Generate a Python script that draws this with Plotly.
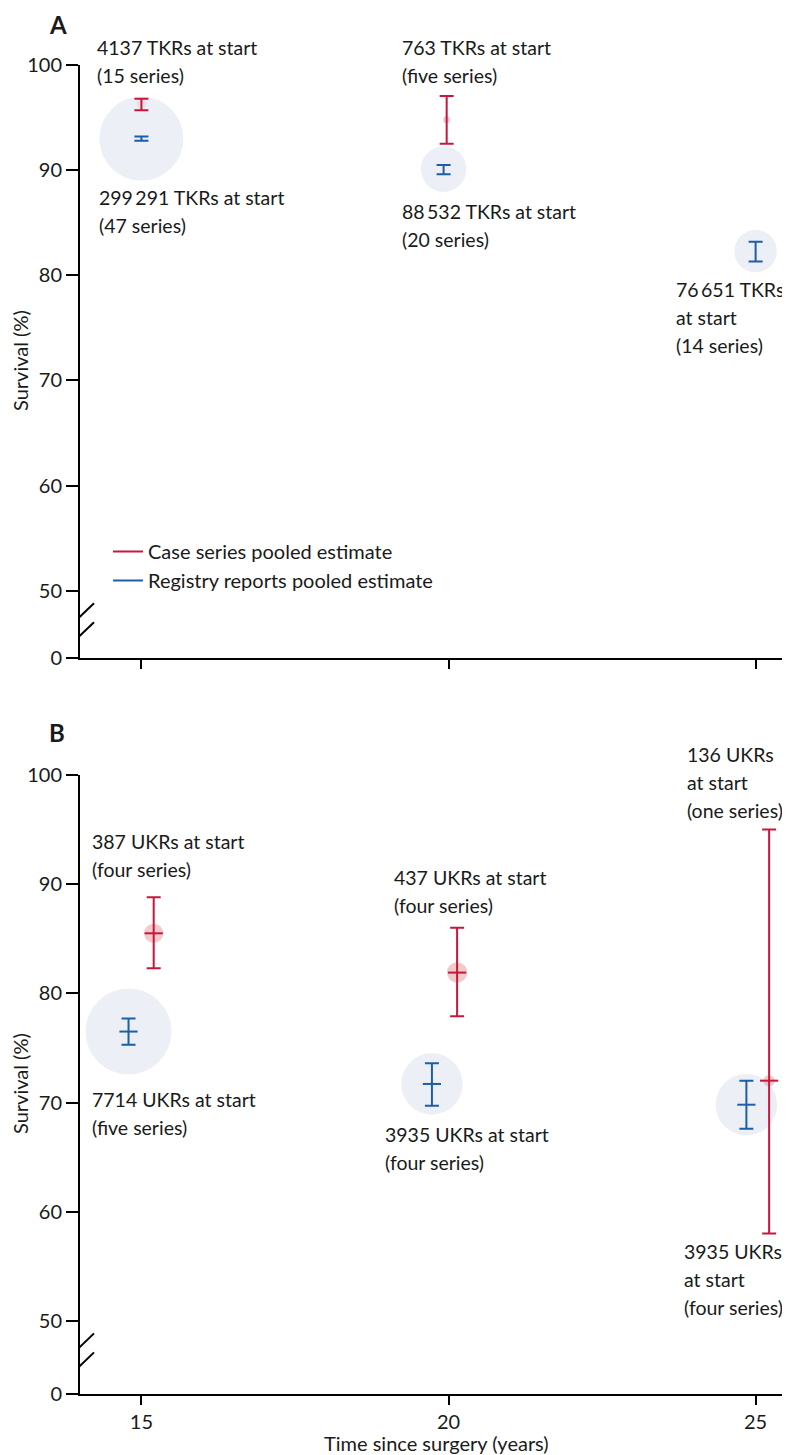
import plotly.graph_objects as go
import math

# ---------------- DATA ----------------
# Panel A: total knee replacement (TKR)
case_x_a = [15.0, 19.97]
case_est_a = [96.3, 94.8]
case_lo_a = [95.7, 92.5]
case_hi_a = [96.8, 97.05]
case_n_a = [4137, 763]

reg_x_a = [15.0, 19.92, 25.0]
reg_est_a = [93.0, 90.1, 82.3]
reg_lo_a = [92.8, 89.6, 81.3]
reg_hi_a = [93.2, 90.5, 83.2]
reg_n_a = [299291, 88532, 76651]

# Panel B: unicompartmental knee replacement (UKR)
case_x_b = [15.2, 20.14, 25.22]
case_est_b = [85.5, 81.9, 72.0]
case_lo_b = [82.3, 77.9, 58.0]
case_hi_b = [88.8, 86.0, 95.0]
case_n_b = [387, 437, 136]

reg_x_b = [14.79, 19.73, 24.85]
reg_est_b = [76.5, 71.7, 69.8]
reg_lo_b = [75.3, 69.7, 67.6]
reg_hi_b = [77.7, 73.6, 72.0]
reg_n_b = [7714, 3935, 3935]

x_ticks = [15, 20, 25]
y_ticks = [50, 60, 70, 80, 90, 100]

# label lines, left x (px), cap-top of first line (px) in the 790x1455 page
labels_a = [
    (["4137 TKRs at start", "(15 series)"], 98, 43),
    (["299\u2009291 TKRs at start", "(47 series)"], 100, 193),
    (["763 TKRs at start", "(five series)"], 403, 43),
    (["88\u2009532 TKRs at start", "(20 series)"], 403, 207),
    (["76\u2009651 TKRs", "at start", "(14 series)"], 677, 285),
]
labels_b = [
    (["387 UKRs at start", "(four series)"], 93, 837),
    (["7714 UKRs at start", "(five series)"], 93, 1095),
    (["437 UKRs at start", "(four series)"], 395, 873),
    (["3935 UKRs at start", "(four series)"], 386, 1130),
    (["136 UKRs", "at start", "(one series)"], 688, 750),
    (["3935 UKRs", "at start", "(four series)"], 685, 1247),
]

# ---------------- STYLE ----------------
FONT = "Lato"
TXT = "#1a1a1a"
RED = "#c8173d"
BLUE = "#1c5ea8"
LAV = "#e6e8f4"
PINK = "rgba(222,130,128,0.6)"
OFF = 8                       # page body margin of the html page
W, H = 790 - OFF, 1455 - OFF
ML, MR, MT = 80 - OFF, 0, 65 - OFF
MB = H - (1394 - OFF)
PH = H - MT - MB
X_RANGE = [14.0, 25.56]
YA_RANGE = [43.6, 100]
YB_RANGE = [43.3, 100]
A_DOM = [(1394 - 658) / PH, 1.0]
B_DOM = [0.0, (1394 - 775) / PH]
LINE_GAP = 28
LABEL_SIZE = 19.5


def P(xpx, ypx):
    """page pixel -> paper coords"""
    return (xpx - OFF - ML) / (W - ML - MR), (H - MB - (ypx - OFF)) / PH


def diam(n, k, dmin=7):
    return [max(k * math.sqrt(v), dmin) for v in n]


fig = go.Figure()


def add_panel(xa, ya, cx, ce, clo, chi, cn, rx, re_, rlo, rhi, rn, k,
              pink_on_top, tick_size):
    pink = go.Scatter(
        x=cx, y=ce, mode="markers", xaxis=xa, yaxis=ya, showlegend=False,
        marker=dict(size=diam(cn, k), color=PINK, line=dict(width=0)),
        hoverinfo="skip")
    lav = go.Scatter(
        x=rx, y=re_, mode="markers", xaxis=xa, yaxis=ya, showlegend=False,
        marker=dict(size=diam(rn, k), color=LAV, line=dict(width=0)),
        hoverinfo="skip")
    for t in ((lav, pink) if pink_on_top else (pink, lav)):
        fig.add_trace(t)
    for x, e, lo, hi, col in ((rx, re_, rlo, rhi, BLUE), (cx, ce, clo, chi, RED)):
        fig.add_trace(go.Scatter(
            x=x, y=e, mode="markers", xaxis=xa, yaxis=ya, showlegend=False,
            marker=dict(symbol="line-ew", size=tick_size, color=col,
                        line=dict(color=col, width=2 if tick_size else 0)),
            error_y=dict(type="data", symmetric=False,
                         array=[h - m for h, m in zip(hi, e)],
                         arrayminus=[m - l for m, l in zip(e, lo)],
                         color=col, thickness=2, width=7)))


add_panel("x", "y", case_x_a, case_est_a, case_lo_a, case_hi_a, case_n_a,
          reg_x_a, reg_est_a, reg_lo_a, reg_hi_a, reg_n_a,
          84 / math.sqrt(reg_n_a[0]), False, 0)
add_panel("x2", "y2", case_x_b, case_est_b, case_lo_b, case_hi_b, case_n_b,
          reg_x_b, reg_est_b, reg_lo_b, reg_hi_b, reg_n_b,
          86 / math.sqrt(reg_n_b[0]), True, 13)

# legend entries
fig.add_trace(go.Scatter(x=[None], y=[None], mode="lines", xaxis="x", yaxis="y",
                         name="Case series pooled estimate",
                         line=dict(color=RED, width=2)))
fig.add_trace(go.Scatter(x=[None], y=[None], mode="lines", xaxis="x", yaxis="y",
                         name="Registry reports pooled estimate",
                         line=dict(color=BLUE, width=2)))

axis_common = dict(showgrid=False, zeroline=False, showline=True,
                   linecolor="black", linewidth=2, ticks="outside",
                   ticklen=12, tickwidth=2, tickcolor="black",
                   tickfont=dict(family=FONT, size=20, color=TXT))
x_common = dict(axis_common, ticklen=9)

annotations = []
for lines, xp, yp in labels_a + labels_b:
    for i, line in enumerate(lines):
        px, py = P(xp - 2, yp - 8 + i * LINE_GAP)
        annotations.append(dict(text=line, x=px, y=py, xref="paper", yref="paper",
                                xanchor="left", yanchor="top", align="left",
                                showarrow=False, borderpad=0,
                                font=dict(family=FONT, size=LABEL_SIZE, color=TXT)))
for t, yp in (("A", 24), ("B", 732)):
    px, py = P(48, yp)
    annotations.append(dict(text="<b>%s</b>" % t, x=px, y=py, xref="paper",
                            yref="paper", xanchor="left", yanchor="middle",
                            showarrow=False, borderpad=0,
                            font=dict(family=FONT, size=24, color=TXT)))
for yp in (361, 1084):
    px, py = P(20, yp)
    annotations.append(dict(text="Survival (%)", x=px, y=py, xref="paper",
                            yref="paper", xanchor="center", yanchor="middle",
                            textangle=-90, showarrow=False, borderpad=0,
                            font=dict(family=FONT, size=20, color=TXT)))
px, py = P(436, 1443)
annotations.append(dict(text="Time since surgery (years)", x=px, y=py,
                        xref="paper", yref="paper", xanchor="center",
                        yanchor="middle", showarrow=False, borderpad=0,
                        font=dict(family=FONT, size=20, color=TXT)))

# axis-break slashes (pixel-sized, anchored at the 50 tick on the y axis)
shapes = []
for yr in ("y", "y2"):
    xr = "x" if yr == "y" else "x2"
    for off in (-26, -45):
        shapes.append(dict(type="line", xref=xr, yref=yr,
                           xsizemode="pixel", ysizemode="pixel",
                           xanchor=X_RANGE[0], yanchor=50,
                           x0=-14, x1=14, y0=off - 13.5, y1=off + 13.5,
                           line=dict(color="black", width=2)))

lx, ly = P(108, 532)
fig.update_layout(
    width=W, height=H,
    margin=dict(l=ML, r=MR, t=MT, b=MB),
    plot_bgcolor="white", paper_bgcolor="white",
    font=dict(family=FONT, size=20, color=TXT),
    xaxis=dict(x_common, range=X_RANGE, tickvals=x_ticks,
               showticklabels=False, anchor="y", domain=[0, 1]),
    yaxis=dict(axis_common, range=YA_RANGE, domain=A_DOM, anchor="x",
               tickvals=[YA_RANGE[0]] + y_ticks,
               ticktext=["0"] + [str(v) for v in y_ticks]),
    xaxis2=dict(x_common, range=X_RANGE, tickvals=x_ticks,
                ticktext=[str(v) for v in x_ticks], anchor="y2", domain=[0, 1]),
    yaxis2=dict(axis_common, range=YB_RANGE, domain=B_DOM, anchor="x2",
                tickvals=[YB_RANGE[0]] + y_ticks,
                ticktext=["0"] + [str(v) for v in y_ticks]),
    showlegend=True,
    legend=dict(x=lx, y=ly, xanchor="left", yanchor="top",
                bgcolor="rgba(0,0,0,0)", borderwidth=0,
                font=dict(family=FONT, size=20, color=TXT),
                itemwidth=30, tracegroupgap=0),
    annotations=annotations,
    shapes=shapes,
)

fig.write_html("out.html")
